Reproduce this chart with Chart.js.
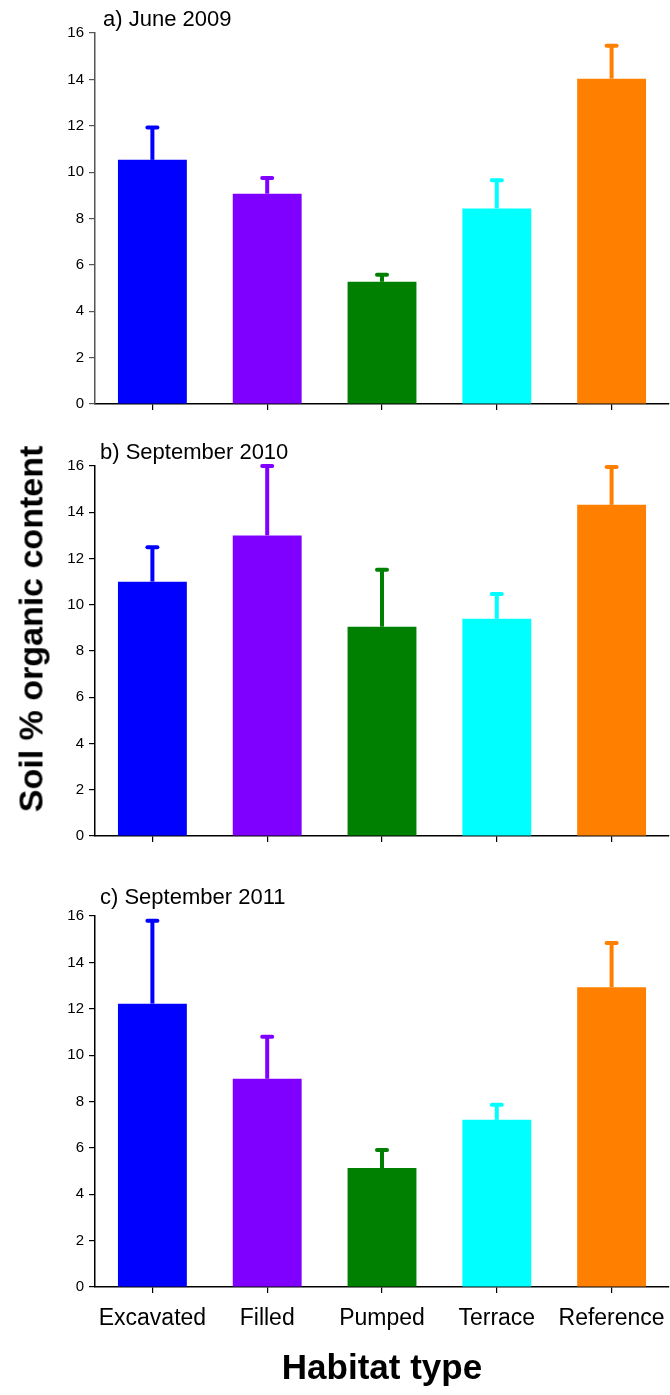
<!DOCTYPE html>
<html>
<head>
<meta charset="utf-8">
<script src="https://cdn.jsdelivr.net/npm/chart.js@4"></script>
<style>
  body { margin: 0; background: #fff; }
  #wrap { position: relative; width: 670px; height: 1395px; font-family: "Liberation Sans", Arial, sans-serif; }
  canvas { position: absolute; left: 0; }
  #ytitle {
    position: absolute; left: 31px; top: 629px;
    transform: translate(-50%, -50%) rotate(-90deg);
    font-weight: bold; font-size: 34px; white-space: nowrap; color: #000;
  }
</style>
</head>
<body>
<div id="wrap">
  <canvas id="c1" width="670" height="430" style="top:0px"></canvas>
  <canvas id="c2" width="670" height="430" style="top:430px"></canvas>
  <canvas id="c3" width="670" height="535" style="top:860px"></canvas>
  <div id="ytitle">Soil % organic content</div>
</div>
<script>
// data
let habitats = ['Excavated', 'Filled', 'Pumped', 'Terrace', 'Reference'];
let barColors = ['#0000ff', '#8000ff', '#008000', '#00ffff', '#ff8000'];
let yTicks = [0, 2, 4, 6, 8, 10, 12, 14, 16];

let june2009 = [10.53, 9.07, 5.27, 8.43, 14.03];
let june2009Err = [1.39, 0.68, 0.30, 1.22, 1.42];
let sept2010 = [11.0, 13.0, 9.05, 9.39, 14.32];
let sept2010Err = [1.49, 3.0, 2.46, 1.07, 1.64];
let sept2011 = [12.22, 8.98, 5.13, 7.21, 12.93];
let sept2011Err = [3.58, 1.81, 0.78, 0.65, 1.91];

Chart.defaults.font.family = '"Liberation Sans", Arial, sans-serif';
Chart.defaults.color = '#000';

// upper error bars, same colour as the bar
const errorBars = {
  id: 'errorBars',
  afterDatasetsDraw(chart, args, opts) {
    const ctx = chart.ctx;
    const meta = chart.getDatasetMeta(0);
    const y = chart.scales.y;
    const data = chart.data.datasets[0].data;
    ctx.save();
    ctx.lineWidth = 4;
    meta.data.forEach((bar, i) => {
      const top = y.getPixelForValue(data[i] + opts.errors[i]);
      ctx.strokeStyle = barColors[i];
      ctx.lineCap = 'butt';
      ctx.beginPath();
      ctx.moveTo(bar.x, bar.y);
      ctx.lineTo(bar.x, top);
      ctx.stroke();
      ctx.lineCap = 'round';
      ctx.beginPath();
      ctx.moveTo(bar.x - 5, top);
      ctx.lineTo(bar.x + 5, top);
      ctx.stroke();
    });
    ctx.restore();
  }
};

const panelLabel = {
  id: 'panelLabel',
  afterDraw(chart, args, opts) {
    const ctx = chart.ctx;
    ctx.save();
    ctx.font = '22px "Liberation Sans", Arial, sans-serif';
    ctx.fillStyle = '#000';
    ctx.textBaseline = 'alphabetic';
    ctx.fillText(opts.text, opts.x, chart.chartArea.top - opts.gap);
    ctx.restore();
  }
};

function makePanel(id, values, errs, label, opt) {
  return new Chart(document.getElementById(id).getContext('2d'), {
    type: 'bar',
    data: {
      labels: habitats,
      datasets: [{
        data: values,
        backgroundColor: barColors,
        borderWidth: 0,
        barPercentage: 0.6,
        categoryPercentage: 1.0
      }]
    },
    options: {
      responsive: false,
      animation: false,
      devicePixelRatio: 1,
      layout: { padding: { top: opt.padTop, right: 1, left: 0, bottom: 0 } },
      plugins: {
        legend: { display: false },
        tooltip: { enabled: false },
        errorBars: { errors: errs },
        panelLabel: { text: label, x: opt.labelX, gap: opt.labelGap }
      },
      scales: {
        x: {
          grid: { display: true, offset: false, drawOnChartArea: false, tickLength: 6, color: '#000', lineWidth: 1.2 },
          border: { color: '#000', width: 1.5 },
          ticks: { display: opt.showX, font: { size: 23 }, padding: 12, maxRotation: 0 },
          title: {
            display: opt.showX, text: 'Habitat type',
            font: { size: 35, weight: 'bold' }, padding: { top: 0, bottom: 5 }
          },
          afterFit(scale) {
            scale.height = opt.xHeight;
            scale.paddingLeft = 0;
            scale.paddingRight = 0;
          }
        },
        y: {
          min: 0, max: 16,
          afterBuildTicks(scale) { scale.ticks = yTicks.map(v => ({ value: v })); },
          grid: { display: true, drawOnChartArea: false, tickLength: 6, color: opt.axisColor, lineWidth: 1.2 },
          border: { color: opt.axisColor, width: 1.5 },
          ticks: { font: { size: 15 }, padding: 5 },
          afterFit(scale) { scale.width = 95; }
        }
      }
    },
    plugins: [errorBars, panelLabel]
  });
}

makePanel('c1', june2009, june2009Err, 'a) June 2009',
  { padTop: 33, xHeight: 26, showX: false, labelX: 103, labelGap: 7, axisColor: '#555' });
makePanel('c2', sept2010, sept2010Err, 'b) September 2010',
  { padTop: 36, xHeight: 24, showX: false, labelX: 100, labelGap: 7, axisColor: '#000' });
makePanel('c3', sept2011, sept2011Err, 'c) September 2011',
  { padTop: 56, xHeight: 108, showX: true, labelX: 100, labelGap: 12, axisColor: '#000' });
</script>
</body>
</html>
